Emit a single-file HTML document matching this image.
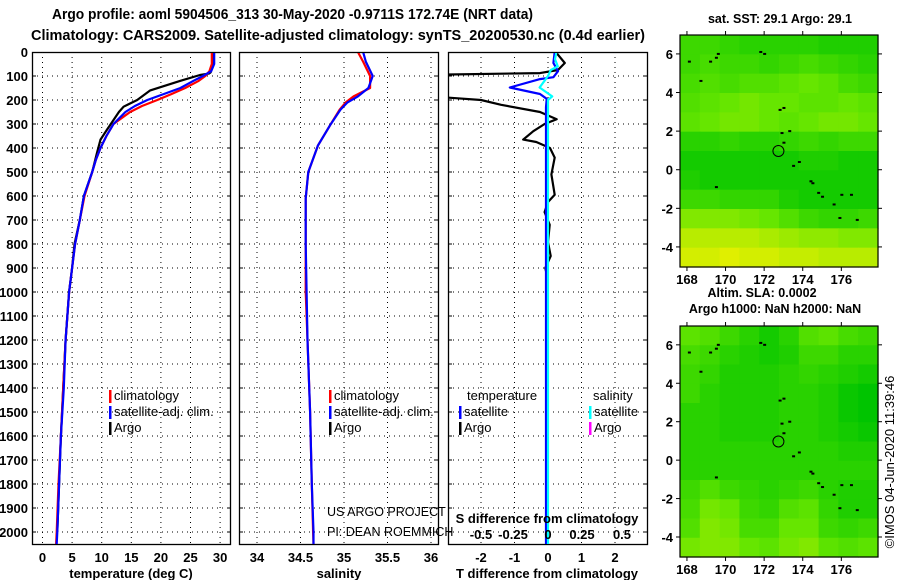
<!DOCTYPE html>
<html><head><meta charset="utf-8"><title>Argo profile</title>
<style>
html,body{margin:0;padding:0;background:#fff;}
svg{display:block;font-family:"Liberation Sans",Arial,sans-serif;}
.b{font-weight:bold;font-size:13px;fill:#000;}
.lg{font-size:13px;fill:#000;}
</style></head><body>
<svg id="chart" width="900" height="580" viewBox="0 0 900 580" xmlns="http://www.w3.org/2000/svg">
<rect width="900" height="580" fill="#fff"/>
<text class="b" x="52" y="19" style="font-size:14.5px" textLength="481" lengthAdjust="spacingAndGlyphs">Argo profile: aoml 5904506_313 30-May-2020 -0.9711S 172.74E (NRT data)</text>
<text class="b" x="31" y="40" style="font-size:14.5px" textLength="614" lengthAdjust="spacingAndGlyphs">Climatology: CARS2009. Satellite-adjusted climatology: synTS_20200530.nc (0.4d earlier)</text>
<g id="g"></g>
</svg>
<script>
// ---------- data ----------
const depthT = [0,50,80,100,120,150,175,200,225,250,300,350,400,450,500,600,700,800,900,1000,1200,1400,1600,1800,2000,2050];
const climT  = [28.6,28.6,28.2,27.5,26.4,24.1,21.8,19.4,16.8,14.8,12.0,10.8,9.8,9.0,8.4,7.1,6.3,5.5,5.0,4.5,3.9,3.5,3.1,2.7,2.4,2.3];
const satT   = [29.0,29.0,28.5,27.1,25.5,23.3,20.5,17.7,15.6,14.0,12.0,10.8,9.8,9.0,8.4,7.0,6.3,5.5,5.0,4.5,3.9,3.6,3.1,2.8,2.5,2.4];
const depthArgo = [0,50,85,90,96,120,160,200,228,250,320,365,420,500,600,700,800,900,1000,1200,1400,1600,1800,2000];
const argoT  = [28.8,28.8,28.4,28.1,26.6,23.3,18.2,16.0,13.7,12.9,11.0,9.8,9.2,8.4,7.0,6.3,5.4,5.0,4.5,3.9,3.5,3.1,2.8,2.5];
const depthS = [0,40,100,150,185,210,240,305,390,500,610,800,1000,1200,1500,1800,2000,2050];
const climS  = [35.16,35.22,35.30,35.30,35.11,35.02,34.95,34.84,34.70,34.59,34.56,34.56,34.56,34.58,34.61,34.63,34.645,34.65];
const satS   = [35.22,35.25,35.33,35.28,35.16,35.04,34.96,34.84,34.70,34.59,34.56,34.56,34.57,34.58,34.61,34.63,34.65,34.65];
const depthDA = [5,46,75,88,96,110,180,200,220,250,280,300,330,365,375,400,440,510,595,625,667,720,792,850,900,950];
const argoDT  = [0.26,0.5,0.3,-0.24,-4,-4,-4,-2.0,-1.4,-0.24,0.26,-0.1,-0.44,-0.74,-0.35,0.06,0.2,0.1,0.2,0.0,-0.1,0.05,0.0,0.08,-0.08,0.0];
const depthDS = [0,46,80,105,113,148,175,195,230,1300,2050];
const satDT   = [0.2,0.16,0.3,0.16,-0.24,-1.14,-0.24,-0.04,-0.06,-0.06,-0.06];
const depthDC = [0,30,60,75,100,120,148,185,200,2050];
const satDS   = [0.06,0.05,0.07,0.02,0.0,-0.025,-0.06,0.03,0.0,0.0];
const depthTicks = [0,100,200,300,400,500,600,700,800,900,1000,1100,1200,1300,1400,1500,1600,1700,1800,1900,2000];
const tTicks = [0,5,10,15,20,25,30];
const sTicks = [34,34.5,35,35.5,36];
const dTicks = [-2,-1,0,1,2];
const lonTicks = [168,170,172,174,176];
const latTicks = [-4,-2,0,2,4,6];
const sst = [
[0.3,0.3,0.25,0.2,0.2,0.2,0.2,0.15,0.15,0.15],
[0.3,0.35,0.3,0.3,0.25,0.3,0.35,0.3,0.25,0.2],
[0.35,0.4,0.35,0.4,0.4,0.45,0.5,0.45,0.35,0.3],
[0.4,0.45,0.5,0.55,0.5,0.5,0.45,0.45,0.5,0.45],
[0.45,0.5,0.55,0.55,0.5,0.45,0.5,0.55,0.55,0.5],
[0.2,0.2,0.25,0.2,0.2,0.25,0.3,0.25,0.3,0.3],
[0.1,0.1,0.1,0.1,0.1,0.1,0.15,0.15,0.1,0.1],
[0.15,0.1,0.1,0.1,0.1,0.1,0.1,0.1,0.1,0.1],
[0.3,0.3,0.25,0.25,0.25,0.15,0.1,0.1,0.1,0.1],
[0.6,0.6,0.6,0.55,0.5,0.4,0.3,0.25,0.25,0.3],
[0.8,0.8,0.8,0.8,0.75,0.7,0.65,0.65,0.6,0.6],
[0.9,0.9,0.95,0.9,0.9,0.85,0.85,0.8,0.8,0.8]];
const sla = [
[0.45,0.4,0.3,0.2,0.1,0.2,0.4,0.45,0.35,0.3],
[0.35,0.3,0.2,0.15,0.1,0.15,0.3,0.3,0.2,0.2],
[0.3,0.25,0.15,0.15,0.15,0.2,0.25,0.2,0.15,0.1],
[0.3,0.2,0.15,0.15,0.15,0.2,0.2,0.15,0.05,0.0],
[0.2,0.2,0.15,0.15,0.15,0.2,0.2,0.15,0.05,0.0],
[0.2,0.2,0.15,0.15,0.15,0.2,0.2,0.15,0.1,0.05],
[0.2,0.2,0.2,0.2,0.2,0.2,0.2,0.2,0.15,0.15],
[0.2,0.2,0.2,0.2,0.2,0.2,0.2,0.2,0.2,0.2],
[0.3,0.4,0.3,0.25,0.2,0.25,0.3,0.2,0.15,0.15],
[0.35,0.55,0.5,0.3,0.25,0.4,0.45,0.25,0.15,0.15],
[0.4,0.6,0.55,0.35,0.35,0.5,0.5,0.3,0.25,0.3],
[0.55,0.6,0.6,0.5,0.45,0.55,0.6,0.45,0.4,0.45]];
const coastLon = [169.6,169.5,168.1,169.2,168.7,171.8,172.0,173.0,172.8,172.9,173.0,173.3,173.5,173.8,174.4,174.5,174.8,175.0,175.6,176.0,176.5,175.9,176.8,169.5];
const coastLat = [6.0,5.8,5.6,5.6,4.6,6.1,6.0,3.2,3.1,1.9,1.4,2.0,0.2,0.4,-0.6,-0.7,-1.2,-1.4,-1.8,-1.3,-1.3,-2.5,-2.6,-0.9];
const floatLon = 172.74, floatLat = 0.97;

// ---------- helpers ----------
const NS = "http://www.w3.org/2000/svg";
const G = document.getElementById('g');
function mk(tag, attrs, parent){ const e=document.createElementNS(NS,tag); for(const k in attrs) e.setAttribute(k,attrs[k]); (parent||G).appendChild(e); return e; }
const top0=52, bot=545, pxPerM=0.24;
const yD = d => top0 + d*pxPerM;
const P1={x0:32,x1:231}, P2={x0:239,x1:439}, P3={x0:448,x1:648};
const xT = v => 42.5 + v*5.92;
const xS = v => 257 + (v-34)*87;
const xDT = v => 548 + v*33.5;
const xDS = v => 548 + v*140;

function panel(P, name, xt, xfun){
  const g = mk('g',{});
  
  
  for(const d of depthTicks){ if(d===0) continue;
    const l=mk('line',{x1:P.x0,x2:P.x1,y1:yD(d),y2:yD(d),stroke:'#000','stroke-width':1,'stroke-dasharray':'1 4'},g);
     
    mk('line',{x1:P.x0,x2:P.x0+4,y1:yD(d),y2:yD(d),stroke:'#000'},g);
    mk('line',{x1:P.x1-4,x2:P.x1,y1:yD(d),y2:yD(d),stroke:'#000'},g);
  }
  for(const v of xt){ const x=xfun(v);
    const l=mk('line',{x1:x,x2:x,y1:top0,y2:bot,stroke:'#000','stroke-width':1,'stroke-dasharray':'1 4'},g);
     
    const t=mk('text',{x:x,y:562,'text-anchor':'middle',class:'b'},g); t.textContent=v;
     
  }
  const r=mk('rect',{x:P.x0+0.5,y:top0+0.5,width:P.x1-P.x0-1,height:bot-top0-1,fill:'none',stroke:'#000','stroke-width':1.3},g);
   
  return g;
}
function clip(id,P){ const c=mk('clipPath',{id:id}); mk('rect',{x:P.x0+1,y:top0+1,width:P.x1-P.x0-2,height:bot-top0-2},c); }
clip('c1',P1); clip('c2',P2); clip('c3',P3);
function line(depths, vals, xfun, color, name, cid, w){
  const pts = depths.map((d,i)=>xfun(vals[i]).toFixed(1)+','+yD(d).toFixed(1)).join(' ');
  const p=mk('polyline',{points:pts,fill:'none',stroke:color,'stroke-width':w||2.2,'clip-path':'url(#'+cid+')','stroke-linejoin':'round'});
  
  
}
function txt(x,y,s,cls,name,anchor){ const t=mk('text',{x:x,y:y,class:cls,'text-anchor':anchor||'start'}); t.textContent=s;
  
   return t; }
function bar(x,y,color,name){ const r=mk('rect',{x:x,y:y-11,width:2.5,height:13,fill:color});
  
   }

// depth labels
for(const d of depthTicks){ const t=txt(28,yD(d)+5,String(d),'b','y-tick-label','end'); }

panel(P1,'temperature-panel',tTicks,xT);
panel(P2,'salinity-panel',sTicks,xS);
panel(P3,'difference-panel',dTicks,xDT);

// profiles
line(depthArgo,argoT,xT,'#000','argo-temperature-line','c1');
line(depthT,climT,xT,'#ff0000','clim-temperature-line','c1');
line(depthT,satT,xT,'#0000ff','sat-temperature-line','c1');
line(depthS,climS,xS,'#ff0000','clim-salinity-line','c2');
line(depthS,satS,xS,'#0000ff','sat-salinity-line','c2');
line(depthDA,argoDT,xDT,'#000','argo-temperature-diff-line','c3');
line(depthDS,satDT,xDT,'#0000ff','sat-temperature-diff-line','c3');
line(depthDC,satDS,xDS,'#00ffff','sat-salinity-diff-line','c3');

// axis titles
txt(131,578,'temperature (deg C)','b','x-axis-title-temperature','middle');
txt(339,578,'salinity','b','x-axis-title-salinity','middle');
txt(547,578,'T difference from climatology','b','x-axis-title-tdiff','middle');

// legends
bar(109,401,'#ff0000','legend-swatch-clim'); txt(114,400,'climatology','lg','legend-entry-clim');
bar(109,417,'#0000ff','legend-swatch-sat'); txt(114,416,'satellite-adj. clim.','lg','legend-entry-sat');
bar(109,433,'#000','legend-swatch-argo'); txt(114,432,'Argo','lg','legend-entry-argo');
bar(329,401,'#ff0000','legend-swatch-clim-s'); txt(334,400,'climatology','lg','legend-entry-clim-s');
bar(329,417,'#0000ff','legend-swatch-sat-s'); txt(334,416,'satellite-adj. clim.','lg','legend-entry-sat-s');
bar(329,433,'#000','legend-swatch-argo-s'); txt(334,432,'Argo','lg','legend-entry-argo-s');
txt(467,400,'temperature','lg','legend-heading-temperature');
txt(593,400,'salinity','lg','legend-heading-salinity');
bar(459,417,'#0000ff','legend-swatch-sat-t'); txt(464,416,'satellite','lg','legend-entry-sat-t');
bar(459,433,'#000','legend-swatch-argo-t'); txt(464,432,'Argo','lg','legend-entry-argo-t');
bar(589,417,'#00ffff','legend-swatch-sat-sd'); txt(594,416,'satellite','lg','legend-entry-sat-sd');
bar(589,433,'#ff00ff','legend-swatch-argo-sd'); txt(594,432,'Argo','lg','legend-entry-argo-sd');

const c1=txt(327,516,'US ARGO PROJECT','lg','credit-project'); c1.setAttribute('style','font-size:12.5px');
const c2=txt(327,536,'PI: DEAN ROEMMICH','lg','credit-pi'); c2.setAttribute('style','font-size:12.5px');
txt(547,523,'S difference from climatology','b','s-diff-axis-title','middle');
const sdLab=['-0.5','-0.25','0','0.25','0.5'], sdX=[481,513,548,582,622];
sdLab.forEach((s,i)=>txt(sdX[i],539,s,'b','s-diff-tick-label','middle'));

// ---------- maps ----------
const lonL=167.64, lonR=177.9, latT=6.98, latB=-5.04;
function colorOf(v){
  const a=[0,196,0], m=[102,230,0], b=[238,240,0];
  let c; if(v<0.5){const t=v/0.5; c=a.map((x,i)=>x+(m[i]-x)*t);} else {const t=(v-0.5)/0.5; c=m.map((x,i)=>x+(b[i]-x)*t);}
  return 'rgb('+c.map(Math.round).join(',')+')';
}
function map(M, grid, name, title){
  const xL=M=>0, X = lon => M.x0 + (lon-lonL)/(lonR-lonL)*(M.x1-M.x0);
  const Y = lat => M.y0 + (latT-lat)/(latT-latB)*(M.y1-M.y0);
  const g=mk('g',{});
  
  
  const rows=grid.length, cols=grid[0].length;
  for(let r=0;r<rows;r++) for(let c=0;c<cols;c++){
    const lo0=lonL+(lonR-lonL)*c/cols, lo1=lonL+(lonR-lonL)*(c+1)/cols;
    const la0=latT-(latT-latB)*r/rows, la1=latT-(latT-latB)*(r+1)/rows;
    const cell=mk('rect',{x:X(lo0),y:Y(la0),width:X(lo1)-X(lo0)+0.6,height:Y(la1)-Y(la0)+0.6,fill:colorOf(grid[r][c])},g);
    
    
  }
  coastLon.forEach((lo,i)=>{ const d=mk('rect',{x:X(lo)-1,y:Y(coastLat[i])-1,width:3,height:2,fill:'#000'},g);
      });
  const fc=mk('circle',{cx:X(floatLon),cy:Y(floatLat),r:5.5,fill:'none',stroke:'#000','stroke-width':1},g);
   
  const fr=mk('rect',{x:M.x0,y:M.y0,width:M.x1-M.x0,height:M.y1-M.y0,fill:'none',stroke:'#000','stroke-width':1.2},g);
   
  for(const lo of lonTicks){ mk('line',{x1:X(lo),x2:X(lo),y1:M.y0,y2:M.y0-4,stroke:'#000'},g);
    mk('line',{x1:X(lo),x2:X(lo),y1:M.y1,y2:M.y1+4,stroke:'#000'},g);
    const t=txt(X(lo),M.y1+17,String(lo),'b','map-lon-label','middle'); }
  for(const la of latTicks){ mk('line',{x1:M.x1,x2:M.x1+4,y1:Y(la),y2:Y(la),stroke:'#000'},g);
    mk('line',{x1:M.x0,x2:M.x0-4,y1:Y(la),y2:Y(la),stroke:'#000'},g);
    txt(673,Y(la)+5,String(la),'b','map-lat-label','end'); }
}
map({x0:680,x1:878,y0:35,y1:267}, sst, 'sst-map');
map({x0:680,x1:878,y0:326,y1:557}, sla, 'sla-map');
txt(780,23,'sat. SST: 29.1 Argo: 29.1','b','sst-map-title','middle').setAttribute('style','font-size:12.5px');
txt(762,297,'Altim. SLA: 0.0002','b','sla-map-title','middle').setAttribute('style','font-size:12.5px');
txt(775,313,'Argo h1000: NaN h2000: NaN','b','argo-height-title','middle').setAttribute('style','font-size:12.5px');
const im=txt(0,0,'©IMOS 04-Jun-2020 11:39:46','lg','imos-timestamp','middle');
im.setAttribute('transform','translate(894,462) rotate(-90)');
im.setAttribute('style','font-size:13px');
</script>
</body></html>
